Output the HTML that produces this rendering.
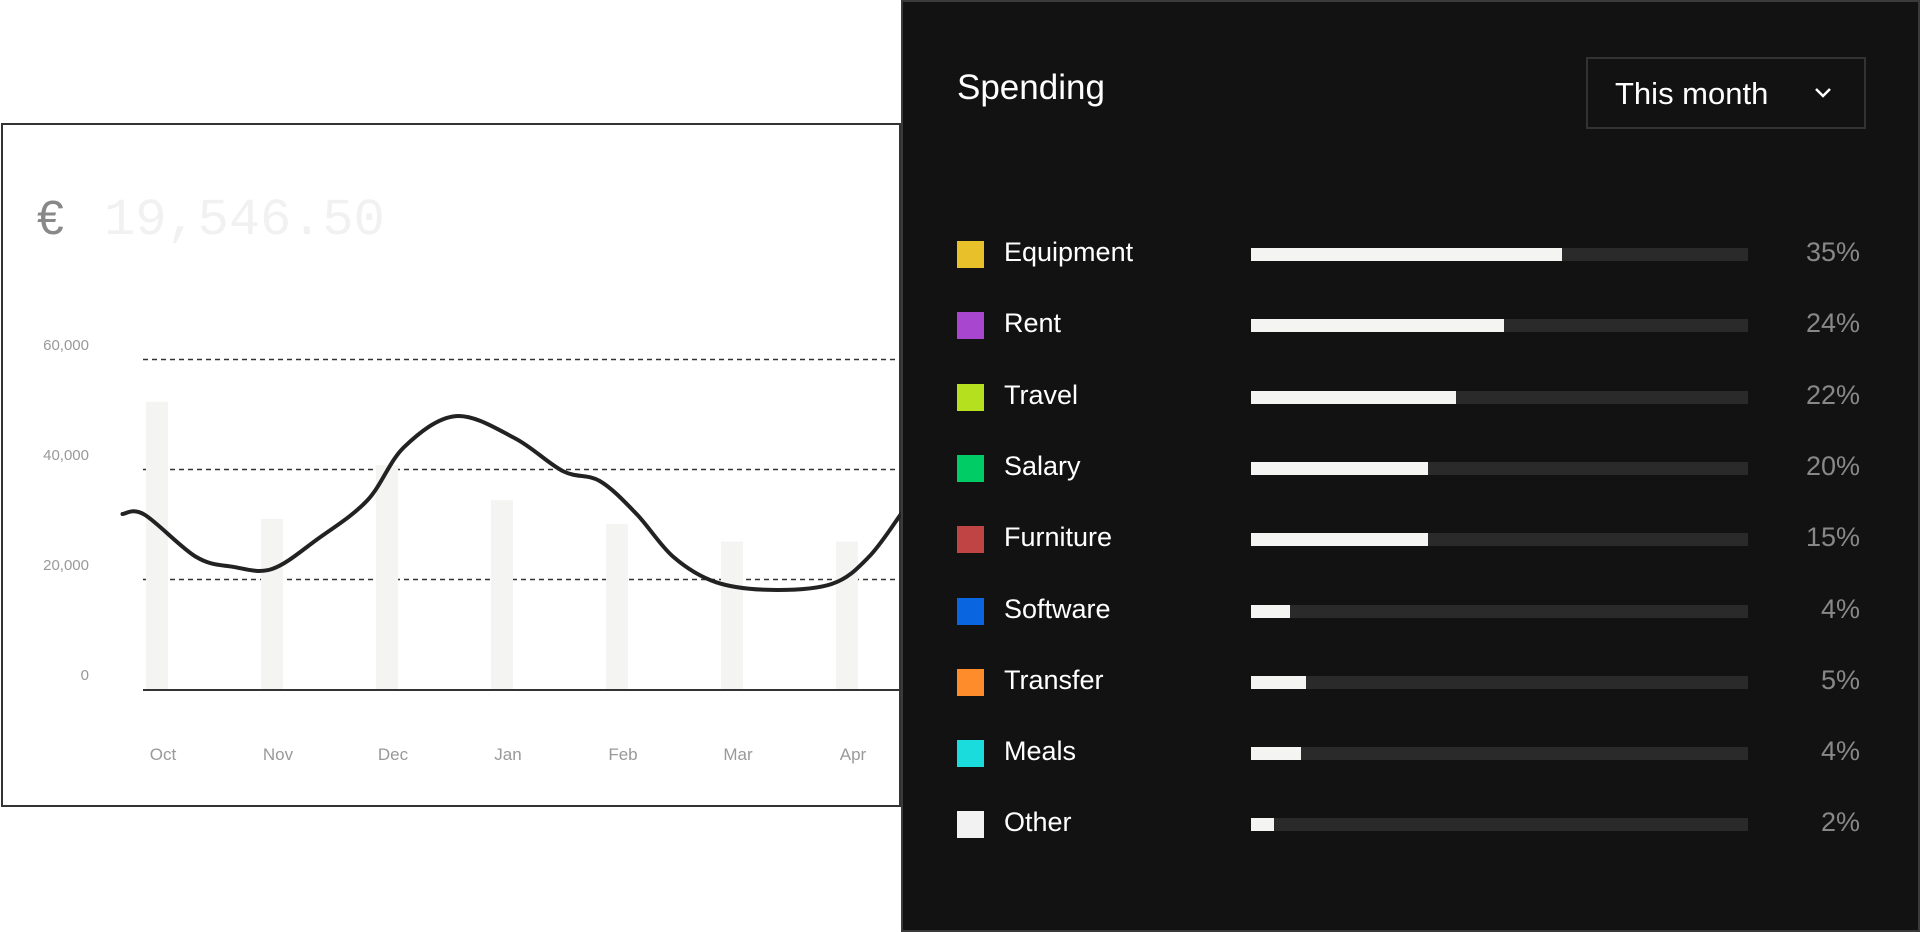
<!DOCTYPE html>
<html><head><meta charset="utf-8"><style>
html,body{margin:0;padding:0;width:1920px;height:932px;overflow:hidden;background:#fff;font-family:"Liberation Sans",sans-serif;}
#card{position:absolute;left:1px;top:123px;width:900px;height:684px;border:2px solid #333;box-sizing:border-box;background:#fff;}
#chart{position:absolute;left:0;top:0;}
#panel{position:absolute;left:901px;top:0;width:1019px;height:932px;background:#121212;border:2px solid #3a3a3a;box-sizing:border-box;color:#fff;}
.row{position:absolute;left:0;width:1019px;height:40px;}
</style></head><body>
<div id="card"></div>
<svg id="chart" width="1920" height="932">
  <text x="37" y="234" font-size="48" fill="#888" font-family="Liberation Sans">€</text>
  <text x="104" y="234" font-size="52" fill="#f1f1f1" font-family="Liberation Mono">19,546.50</text>
  <g id="grid"></g><g id="bars"></g><g id="line"></g><g id="xlabels"></g>
</svg>
<div id="panel">
  <div style="position:absolute;left:54px;top:66px;font-size:35px;">Spending</div>
  <div style="position:absolute;left:683px;top:55px;width:280px;height:72px;border:2px solid #333;box-sizing:border-box;">
    <span style="position:absolute;left:27px;top:17px;font-size:31px;">This month</span>
    <svg style="position:absolute;left:226px;top:28px" width="18" height="12"><path d="M2 2 L9 9 L16 2" stroke="#fff" stroke-width="2.5" fill="none"/></svg>
  </div>
  <div id="rows"></div>
</div>
<script>
const months=["Oct","Nov","Dec","Jan","Feb","Mar","Apr"];
const barValues=[52400,31100,40900,34500,30200,27000,27000];
const lineIdx=[-0.30,-0.11,0.34,0.66,1.0,1.40,1.83,2.15,2.60,3.11,3.53,3.85,4.17,4.49,4.86,5.34,5.87,6.19,6.47];
const lineValues=[32000,31900,24200,22400,22000,27500,34500,44200,49800,45800,39800,38000,32000,24200,19600,18200,19300,24200,32000];
const yTicks=[0,20000,40000,60000];
const yTickLabels=["0","20,000","40,000","60,000"];
const NS="http://www.w3.org/2000/svg";
const x0=157,step=115,yBase=690,pxPer=110/20000;
const X=i=>x0+i*step, Y=v=>yBase-v*pxPer;
function mk(t,a,p){const e=document.createElementNS(NS,t);for(const k in a)e.setAttribute(k,a[k]);p.appendChild(e);return e;}
const g=document.getElementById('grid');
yTicks.forEach((v,i)=>{
  if(v>0){const l=mk('line',{x1:143,x2:901,y1:Y(v)-0.5,y2:Y(v)-0.5,stroke:'#333','stroke-width':1.5,'stroke-dasharray':'5 4'},g);
  
  }
  const t=mk('text',{x:89,y:Y(v)-10,'text-anchor':'end','font-size':15,fill:'#999'},g);t.textContent=yTickLabels[i];
  
  
});
const ax=mk('line',{x1:143,x2:901,y1:yBase,y2:yBase,stroke:'#333','stroke-width':2},g);


const bg=document.getElementById('bars');
barValues.forEach((v,i)=>{
  const r=mk('rect',{x:X(i)-11,y:Y(v),width:22,height:yBase-1-Y(v),fill:'#f4f4f2'},bg);
  
  
  const t=mk('text',{x:X(i)+6,y:760,'text-anchor':'middle','font-size':17,fill:'#999'},document.getElementById('xlabels'));
  t.textContent=months[i];
  
  
});
const pts=lineIdx.map((m,i)=>[X(m),Y(lineValues[i])]);
let d='M'+pts[0][0]+' '+pts[0][1];
for(let i=0;i<pts.length-1;i++){
  const p0=pts[i-1]||pts[i],p1=pts[i],p2=pts[i+1],p3=pts[i+2]||p2;
  d+=` C${p1[0]+(p2[0]-p0[0])/6} ${p1[1]+(p2[1]-p0[1])/6} ${p2[0]-(p3[0]-p1[0])/6} ${p2[1]-(p3[1]-p1[1])/6} ${p2[0]} ${p2[1]}`;
}
const ln=mk('path',{d:d,fill:'none',stroke:'#222','stroke-width':4,'stroke-linecap':'round'},document.getElementById('line'));



const cats=["Equipment","Rent","Travel","Salary","Furniture","Software","Transfer","Meals","Other"];
const colors=["#e8c02a","#a946d0","#b5e01e","#00cc66","#c04444","#0a66e0","#ff8c2a","#1adcdc","#f2f2f2"];
const pctLabels=["35%","24%","22%","20%","15%","4%","5%","4%","2%"];
const fillFrac=[0.626,0.51,0.412,0.357,0.357,0.079,0.111,0.101,0.047];
const rows=document.getElementById('rows');
cats.forEach((c,i)=>{
  const cy=252+i*71.3;
  const r=document.createElement('div');r.className='row';r.style.top=(cy-20)+'px';
  
  
  r.innerHTML=`<div style="position:absolute;left:54px;top:7px;width:27px;height:27px;background:${colors[i]}"></div>
  <div style="position:absolute;left:101px;top:3px;font-size:27px;color:#fff">${c}</div>
  <div style="position:absolute;left:348px;top:14px;width:497px;height:13px;background:#2a2a2a"><div style="width:${fillFrac[i]*100}%;height:100%;background:#f4f4f2"></div></div>
  <div style="position:absolute;right:62px;top:3px;font-size:27px;color:#888">${pctLabels[i]}</div>`;
  rows.appendChild(r);
});
</script>
</body></html>
